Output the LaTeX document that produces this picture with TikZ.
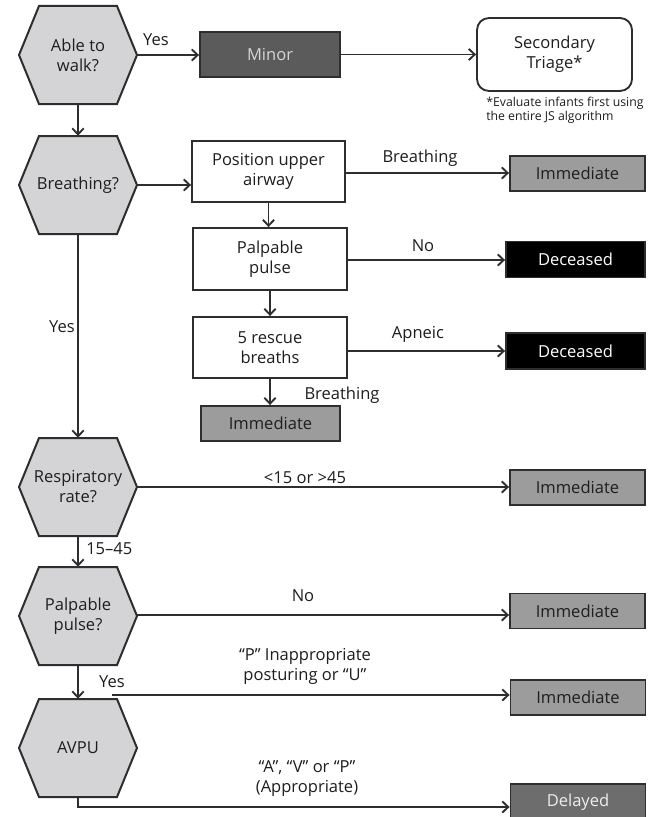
\documentclass[tikz,border=0pt]{standalone}
\usepackage{fontspec}
\setmainfont{Open Sans}
\usetikzlibrary{arrows.meta,calc}
\definecolor{hexfill}{HTML}{D4D4D6}
\definecolor{bordc}{HTML}{2E2E2E}
\definecolor{txtc}{HTML}{1E1E1E}
\definecolor{minorfill}{HTML}{5B5B5B}
\definecolor{minortxt}{HTML}{D6D6D6}
\definecolor{immfill}{HTML}{9C9C9C}
\definecolor{delfill}{HTML}{6D6D6D}
\definecolor{deltxt}{HTML}{EEEEEE}
\tikzset{
  mainfont/.style={font=\fontsize{12.4}{15}\selectfont, text=txtc},
  hexshape/.style={draw=bordc, fill=hexfill, line width=1.5pt, line join=miter},
  hexlabel/.style={mainfont, minimum width=88.5pt, minimum height=73.5pt, inner sep=0pt, align=center},
  stepbox/.style={mainfont, draw=bordc, fill=white, line width=1.4pt, align=center, inner sep=0pt},
  resbox/.style={mainfont, draw=bordc, line width=1.4pt, align=center, inner sep=0pt, minimum width=101.25pt, minimum height=26.25pt},
  immbox/.style={resbox, fill=immfill},
  decbox/.style={resbox, fill=black, text=white, minimum width=104.25pt, minimum height=27pt},
  delbox/.style={resbox, fill=delfill, text=deltxt, minimum height=27pt},
  lbl/.style={mainfont, inner sep=0pt, align=center},
  note/.style={font=\fontsize{9.2}{10.8}\selectfont, text=txtc, inner sep=0pt, align=left, anchor=north west},
  arr/.style={draw=bordc, line width=1.4pt, -{Straight Barb[length=4.5pt,width=8.5pt,line width=1.4pt]}},
  plain/.style={draw=bordc, line width=1.4pt}
}
\newcommand\hexnode[3]{%
  \path[hexshape] (#2) ++(-59,0) -- ++(20,-49) -- ++(78,0) -- ++(20,49) -- ++(-20,49) -- ++(-78,0) -- cycle;
  \node[hexlabel] (#1) at (#2) {#3};
}
\begin{document}
\begin{tikzpicture}[x=0.75pt,y=-0.75pt]
\useasboundingbox (0,0) rectangle (647,817);
\fill[white] (0,0) rectangle (647,817);

% hexagons
\hexnode{h1}{78,55}{Able to\\walk?}
\hexnode{h2}{78,185}{Breathing?}
\hexnode{h3}{78,487}{Respiratory\\rate?}
\hexnode{h4}{78,616}{Palpable\\pulse?}
\hexnode{h5}{78,748}{AVPU}

% boxes
\node[stepbox, fill=minorfill, text=minortxt, minimum width=105pt, minimum height=33.75pt] (minor) at (270,54.5) {Minor};
\node[stepbox, rounded corners=9pt, minimum width=116.25pt, minimum height=54.75pt] (sec) at (554.5,54.5) {Secondary\\Triage*};
\node[note] (fn) at (486,96.5) {*Evaluate infants first using\\the entire JS algorithm};

\node[stepbox, minimum width=114.75pt, minimum height=45.75pt] (pos) at (268.5,171.5) {Position upper\\airway};
\node[stepbox, minimum width=115.5pt, minimum height=46.5pt] (pal) at (270,259) {Palpable\\pulse};
\node[stepbox, minimum width=115.5pt, minimum height=45.75pt] (res) at (270,347.5) {5 rescue\\breaths};
\node[immbox, minimum width=104.25pt] (ims) at (270.5,423.5) {Immediate};

\node[immbox] (im1) at (577.5,173.5) {Immediate};
\node[decbox] (dc1) at (575.5,259.5) {Deceased};
\node[decbox] (dc2) at (575.5,351) {Deceased};
\node[immbox] (im2) at (577.5,487.5) {Immediate};
\node[immbox] (im3) at (577.5,611) {Immediate};
\node[immbox] (im4) at (578,697.5) {Immediate};
\node[delbox] (dl) at (578,802) {Delayed};

% connectors
\draw[arr] (h1.south) -- (h2.north);
\draw[arr] (h1.east) -- (h1.east -| minor.west);
\node[lbl] (lyes1) at (156,40) {Yes};
\draw[arr] (minor.east) -- (minor.east -| sec.west);

\draw[arr] (h2.east) -- (h2.east -| pos.west);
\coordinate (pb) at (345,173);
\draw[arr] (pb -| pos.east) -- (pb -| im1.west);
\node[lbl] (lbr1) at (420,158) {Breathing};
\draw[arr] (pos.south) -- (pos.south |- pal.north);
\coordinate (pp) at (347,260);
\draw[arr] (pp -| pal.east) -- (pp -| dc1.west);
\node[lbl] (lno1) at (423,246) {No};
\draw[arr] (pal.south) -- (pal.south |- res.north);
\coordinate (rp) at (347,351);
\draw[arr] (rp -| res.east) -- (rp -| dc2.west);
\node[lbl] (lap) at (418,334) {Apneic};
\draw[arr] (res.south) -- (res.south |- ims.north);
\node[lbl] (lbr2) at (342,395) {Breathing};

\draw[arr] (h2.south) -- (h3.north);
\node[lbl] (lyes2) at (62,327) {Yes};
\draw[arr] (h3.east) -- (h3.east -| im2.west);
\node[lbl] (lrr) at (305,478) {<15 or >45};
\draw[arr] (h3.south) -- (h4.north);
\node[lbl, anchor=west] (l1545) at (86,549) {15–45};
\coordinate (hp) at (137,615);
\draw[arr] (hp) -- (hp -| im3.west);
\node[lbl] (lno2) at (303,596) {No};
\draw[arr] (h4.south) -- (h5.north);
\node[lbl] (lyes3) at (112,682) {Yes};
\coordinate (ps) at (112,695);
\draw[arr] (ps) -- (ps -| im4.west);
\node[lbl] (lp) at (305,666) {“P” Inappropriate\\posturing or “U”};
\coordinate (ab) at (78,807);
\draw[arr] (h5.south) -- (ab) -- (ab -| dl.west);
\node[lbl] (la) at (307,779) {“A”, “V” or “P”\\(Appropriate)};
\end{tikzpicture}
\end{document}
